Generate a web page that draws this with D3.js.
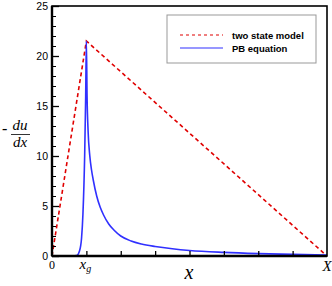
<!DOCTYPE html>
<html>
<head>
<meta charset="utf-8">
<script src="https://cdn.jsdelivr.net/npm/d3@7"></script>
<style>
  body { margin: 0; background: #fff; }
  svg { display: block; }
</style>
</head>
<body>
<svg id="chart" width="332" height="286"></svg>
<script>
// two state model: straight lines up to x_g then down to X
var twoStateX = [0, 1, 8];
var twoStateY = [0, 21.5, 0];

// PB equation curve
var pbX = [0, 0.6, 0.72, 0.8, 0.86, 0.9, 0.95, 0.98, 1.0, 1.02, 1.05, 1.1, 1.15, 1.2, 1.3, 1.4, 1.5, 1.65, 1.8, 2.0, 2.3, 2.6, 3.0, 3.5, 4.0, 5.0, 6.0, 7.0, 8.0];
var pbY = [0, 0, 0.05, 0.5, 1.8, 4.2, 10, 16, 21.5, 16, 12.5, 10, 8.6, 7.6, 6.0, 4.9, 4.1, 3.2, 2.6, 2.0, 1.5, 1.2, 0.95, 0.72, 0.55, 0.36, 0.24, 0.16, 0.1];

var yTicks = [0, 5, 10, 15, 20, 25];
var xTicks = [0, 1, 2, 3, 4, 5, 6, 7, 8];
var xTickLabels = {0: "0", 1: "x_g", 8: "X"};

var legendNames = ["two state model", "PB equation"];

var svg = d3.select("#chart");
var margin = {left: 52, right: 5, top: 6, bottom: 30};
var width = 332, height = 286;

var x = d3.scaleLinear().domain([0, 8]).range([margin.left, width - margin.right]);
var y = d3.scaleLinear().domain([0, 25]).range([height - margin.bottom, margin.top]);

// curves
var lineTwo = d3.line()
    .x(function (d, i) { return x(twoStateX[i]); })
    .y(function (d) { return y(d); });
svg.append("path")
    .attr("d", lineTwo(twoStateY))
    .attr("fill", "none")
    .attr("stroke", "#e00000")
    .attr("stroke-width", 1.6)
    .attr("stroke-dasharray", "4,3");

var linePB = d3.line()
    .x(function (d, i) { return x(pbX[i]); })
    .y(function (d) { return y(d); })
    .curve(d3.curveMonotoneX);
svg.append("path")
    .attr("d", linePB(pbY))
    .attr("fill", "none")
    .attr("stroke", "#3030ff")
    .attr("stroke-width", 1.6);

// frame
svg.append("rect")
    .attr("x", x(0)).attr("y", y(25))
    .attr("width", x(8) - x(0)).attr("height", y(0) - y(25))
    .attr("fill", "none").attr("stroke", "#000").attr("stroke-width", 1.6);
svg.append("line")
    .attr("x1", x(0)).attr("x2", x(0)).attr("y1", y(0)).attr("y2", y(25))
    .attr("stroke", "#000").attr("stroke-width", 2.4);
svg.append("line")
    .attr("x1", x(0)).attr("x2", x(8)).attr("y1", y(0)).attr("y2", y(0))
    .attr("stroke", "#000").attr("stroke-width", 2.4);

// y ticks (inward) with minor ticks
var yAxis = d3.axisRight(y).tickValues(yTicks).tickSize(7).tickFormat("");
var gy = svg.append("g").attr("transform", "translate(" + x(0) + ",0)").call(yAxis);
gy.select(".domain").remove();
gy.selectAll("line").attr("stroke-width", 1.3);
var yMinor = d3.axisRight(y).tickValues(d3.range(0, 26).filter(function (v) { return v % 5 !== 0; }))
    .tickSize(4).tickFormat("");
var gym = svg.append("g").attr("transform", "translate(" + x(0) + ",0)").call(yMinor);
gym.select(".domain").remove();
gym.selectAll("line").attr("stroke-width", 1);

svg.selectAll(".ylab").data(yTicks).enter().append("text")
    .attr("x", x(0) - 4).attr("y", function (d) { return y(d) + 4; })
    .attr("text-anchor", "end")
    .attr("font-family", "Liberation Sans, Arial, sans-serif")
    .attr("font-size", 10.5)
    .text(function (d) { return d; });

// x ticks (inward)
var xAxis = d3.axisTop(x).tickValues(xTicks.slice(1, 8)).tickSize(5).tickFormat("");
var gx = svg.append("g").attr("transform", "translate(0," + y(0) + ")").call(xAxis);
gx.select(".domain").remove();
gx.selectAll("line").attr("stroke-width", 1.3);

var serif = "Liberation Serif, Times New Roman, serif";
svg.append("text").attr("x", x(0)).attr("y", y(0) + 13)
    .attr("text-anchor", "middle").attr("font-family", serif).attr("font-size", 12)
    .text(xTickLabels[0]);
var xg = svg.append("text").attr("x", x(1) - 1).attr("y", y(0) + 13)
    .attr("text-anchor", "middle").attr("font-family", serif).attr("font-style", "italic").attr("font-size", 15);
xg.append("tspan").text("x");
xg.append("tspan").attr("font-size", 10).attr("dy", 3).text("g");
svg.append("text").attr("x", x(8)).attr("y", y(0) + 15)
    .attr("text-anchor", "middle").attr("font-family", serif).attr("font-style", "italic").attr("font-size", 15)
    .text(xTickLabels[8]);

// axis titles
svg.append("text").attr("x", 189).attr("y", 279)
    .attr("text-anchor", "middle").attr("font-family", serif).attr("font-style", "italic").attr("font-size", 20)
    .text("x");
svg.append("text").attr("x", 2).attr("y", 134)
    .attr("font-family", serif).attr("font-size", 16).text("-");
svg.append("text").attr("x", 20).attr("y", 130)
    .attr("text-anchor", "middle").attr("font-family", serif).attr("font-style", "italic").attr("font-size", 15).text("du");
svg.append("line").attr("x1", 11).attr("x2", 30).attr("y1", 134.5).attr("y2", 134.5)
    .attr("stroke", "#000").attr("stroke-width", 0.8);
svg.append("text").attr("x", 20).attr("y", 147)
    .attr("text-anchor", "middle").attr("font-family", serif).attr("font-style", "italic").attr("font-size", 15).text("dx");

// legend
var lg = svg.append("g");
lg.append("rect").attr("x", 167).attr("y", 15).attr("width", 149).attr("height", 48)
    .attr("fill", "#fff").attr("stroke", "#999").attr("stroke-width", 1);
var legendColors = ["#e00000", "#3030ff"];
var legendDash = ["3,3", null];
legendNames.forEach(function (name, i) {
    var ly = 35 + i * 13;
    lg.append("line").attr("x1", 180).attr("x2", 223).attr("y1", ly).attr("y2", ly)
        .attr("stroke", legendColors[i]).attr("stroke-width", 1.2)
        .attr("stroke-dasharray", legendDash[i]);
    lg.append("text").attr("x", 232).attr("y", ly + 3.5)
        .attr("font-family", "Liberation Sans, Arial, sans-serif").attr("font-size", 9.5)
        .attr("font-weight", "bold")
        .text(name);
});
</script>
</body>
</html>
